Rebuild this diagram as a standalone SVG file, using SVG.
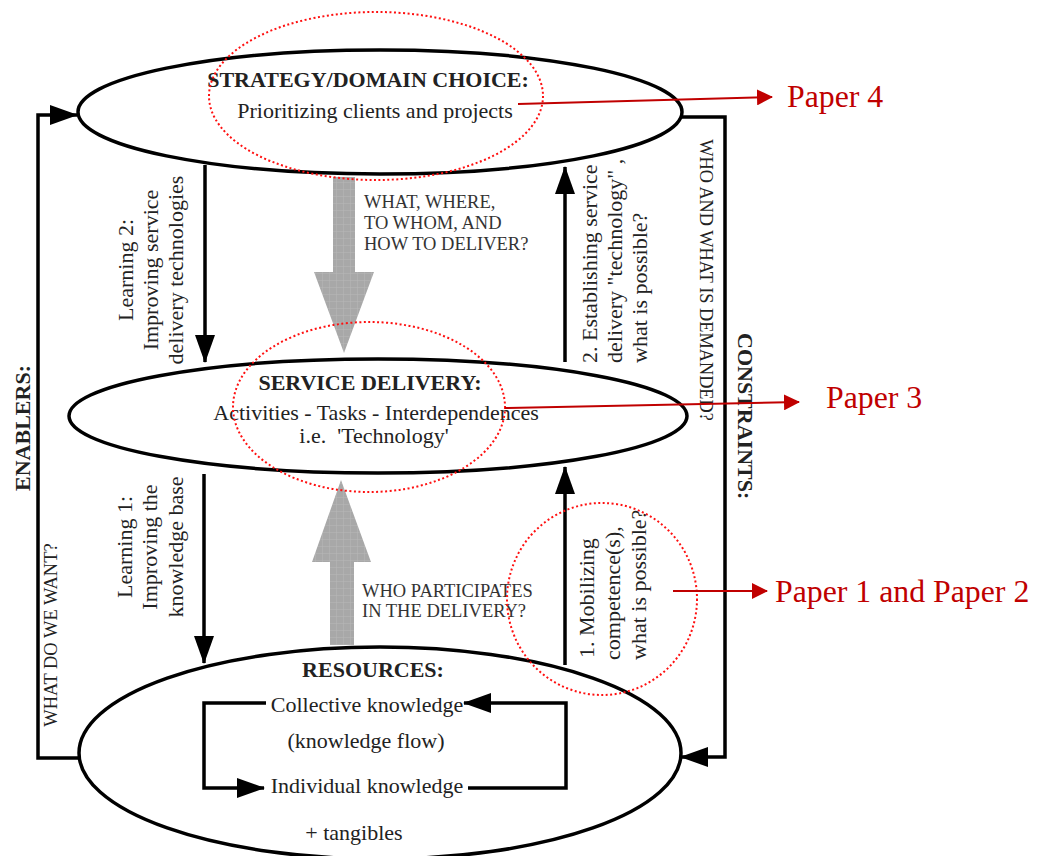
<svg xmlns="http://www.w3.org/2000/svg" width="1041" height="856" viewBox="0 0 1041 856">
<style>
  .ell { fill: #ffffff; stroke: #000; stroke-width: 3.5; }
  .ln { fill: none; stroke: #000; stroke-width: 3.5; }
  .t { font-family: "Liberation Serif", "Times New Roman", serif; fill: #222; }
  .b { font-weight: bold; }
  .body { font-size: 22px; }
  .q { font-size: 18.5px; fill: #333; }
  .red { fill: none; stroke: #ff1010; stroke-width: 2; stroke-dasharray: 2 2.5; }
  .rl { fill: none; stroke: #c00000; stroke-width: 2; }
  .pp { font-family: "Liberation Serif", "Times New Roman", serif; font-size: 31.8px; fill: #c00000; }
  .gray { fill: url(#grid); }
</style>
<defs>
  <marker id="ah" viewBox="0 0 28 20" refX="27" refY="10" markerWidth="28" markerHeight="20" markerUnits="userSpaceOnUse" orient="auto">
    <path d="M0,0 L28,10 L0,20 Z" fill="#000"/>
  </marker>
  <marker id="rh" viewBox="0 0 16 16" refX="15" refY="8" markerWidth="16" markerHeight="16" markerUnits="userSpaceOnUse" orient="auto">
    <path d="M0,0 L16,8 L0,16 Z" fill="#c00000"/>
  </marker>
  <pattern id="grid" width="7" height="7" patternUnits="userSpaceOnUse">
    <rect width="7" height="7" fill="#a8a8a8"/>
    <path d="M0,0 H7 M0,0 V7" stroke="#b8b8b8" stroke-width="1"/>
  </pattern>
</defs>
<rect width="1041" height="856" fill="#ffffff"/>

<g id="connectors">
  <path class="ln" d="M79,758 H38 V115 H77" marker-end="url(#ah)"/>
  <path class="ln" d="M682,117 H725 V757 H681" marker-end="url(#ah)"/>
  <path class="ln" d="M205,165 V362" marker-end="url(#ah)"/>
  <path class="ln" d="M565,362 V167" marker-end="url(#ah)"/>
  <path class="ln" d="M204,474 V663" marker-end="url(#ah)"/>
  <path class="ln" d="M565,665 V467" marker-end="url(#ah)"/>
  <path class="gray" d="M333,177 L355,177 L355,272 L374,272 L344,353 L314,272 L333,272 Z"/>
  <path class="gray" d="M330,645 L354,645 L354,562 L371,562 L341,480 L312,562 L330,562 Z"/>
</g>

<g id="strategy">
  <ellipse class="ell" cx="380" cy="112" rx="302" ry="62"/>
  <text class="t b body" x="368" y="87" text-anchor="middle">STRATEGY/DOMAIN CHOICE:</text>
  <text class="t body" x="375" y="118" text-anchor="middle">Prioritizing clients and projects</text>
</g>

<g id="service-delivery">
  <ellipse class="ell" cx="378" cy="416" rx="309" ry="57"/>
  <text class="t b body" x="370" y="390" text-anchor="middle">SERVICE DELIVERY:</text>
  <text class="t body" x="376" y="420" text-anchor="middle">Activities - Tasks - Interdependences</text>
  <text class="t body" x="374" y="443" text-anchor="middle" xml:space="preserve">i.e.  'Technology'</text>
</g>

<g id="resources">
  <ellipse class="ell" cx="380" cy="753" rx="301" ry="106"/>
  <text class="t b body" x="373" y="677" text-anchor="middle">RESOURCES:</text>
  <text class="t body" x="367" y="712" text-anchor="middle">Collective knowledge</text>
  <text class="t body" x="366" y="748" text-anchor="middle">(knowledge flow)</text>
  <text class="t body" x="367" y="793" text-anchor="middle">Individual knowledge</text>
  <text class="t body" x="354" y="840" text-anchor="middle">+ tangibles</text>
  <path class="ln" d="M266,703 H204 V788 H264" marker-end="url(#ah)"/>
  <path class="ln" d="M468,788 H566 V703 H464" marker-end="url(#ah)"/>
</g>

<g id="labels">
  <text class="t b body" transform="translate(30,428) rotate(-90)" text-anchor="middle">ENABLERS:</text>
  <text class="t" font-size="18.5" transform="translate(57,635) rotate(-90)" text-anchor="middle">WHAT DO WE WANT?</text>
  <text class="t b body" transform="translate(738,333) rotate(90)" text-anchor="start">CONSTRAINTS:</text>
  <text class="t" font-size="18.3" transform="translate(700,280) rotate(90)" text-anchor="middle">WHO AND WHAT IS DEMANDED?</text>

  <g class="t body" text-anchor="middle">
    <text transform="translate(133,270) rotate(-90)">Learning 2:</text>
    <text transform="translate(158,270) rotate(-90)">Improving service</text>
    <text transform="translate(183,270) rotate(-90)">delivery technologies</text>
    <text transform="translate(132,547) rotate(-90)">Learning 1:</text>
    <text transform="translate(157,547) rotate(-90)">Improving the</text>
    <text transform="translate(183,547) rotate(-90)">knowledge base</text>
  </g>
  <g class="t body" text-anchor="start">
    <text transform="translate(597,363) rotate(-90)">2. Establishing service</text>
    <text transform="translate(622,363) rotate(-90)">delivery "technology" ,</text>
    <text transform="translate(647,363) rotate(-90)">what is possible?</text>
    <text transform="translate(594,658) rotate(-90)">1. Mobilizing</text>
    <text transform="translate(620,660) rotate(-90)">competence(s),</text>
    <text transform="translate(646,660) rotate(-90)">what is possible?</text>
  </g>

  <g class="t q">
    <text x="364" y="208">WHAT, WHERE,</text>
    <text x="364" y="229">TO WHOM, AND</text>
    <text x="364" y="250">HOW TO DELIVER?</text>
    <text x="362" y="597">WHO PARTICIPATES</text>
    <text x="362" y="617">IN THE DELIVERY?</text>
  </g>
</g>

<g id="paper-4">
  <ellipse class="red" cx="376" cy="96" rx="167" ry="84"/>
  <path class="rl" d="M518,104 L772,97" marker-end="url(#rh)"/>
  <text class="pp" x="787" y="107">Paper 4</text>
</g>
<g id="paper-3">
  <ellipse class="red" cx="369" cy="407" rx="136" ry="85"/>
  <path class="rl" d="M505,408 L799,402" marker-end="url(#rh)"/>
  <text class="pp" x="826" y="408">Paper 3</text>
</g>
<g id="paper-1-2">
  <ellipse class="red" cx="602" cy="599" rx="95" ry="96"/>
  <path class="rl" d="M673,591 L767,591" marker-end="url(#rh)"/>
  <text class="pp" x="775" y="602">Paper 1 and Paper 2</text>
</g>
</svg>
